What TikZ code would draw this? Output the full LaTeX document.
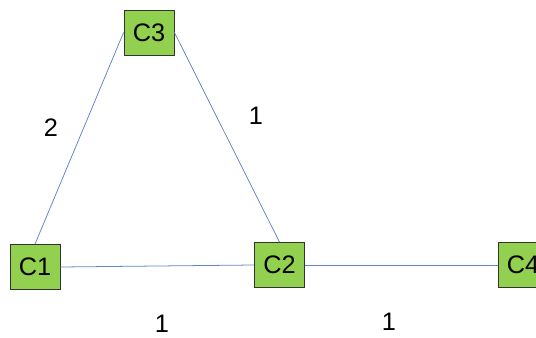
\documentclass[tikz,border=0pt]{standalone}
\usepackage{fontspec}
\setmainfont{Liberation Sans}
\usetikzlibrary{positioning}

\definecolor{cellgreen}{RGB}{146,208,80}
\definecolor{linkblue}{RGB}{98,134,200}

\begin{document}
\begin{tikzpicture}[
  font=\fontsize{18}{21}\selectfont,
  cell/.style={draw=black!80, fill=cellgreen, line width=0.6pt,
    minimum width=1.25cm, minimum height=1.125cm, inner sep=0pt},
  link/.style={draw=linkblue, line width=0.55pt},
  cost/.style={inner sep=0pt}
]
\path[use as bounding box] (0,0) rectangle (13.4,8.425);

\node[cell] (c3) at (3.725,7.6125) {C3};
\node[cell] (c1) at (0.875,1.75) {C1};
\node[cell] (c2) at (6.9875,1.8) {C2};
\node[cell] (c4) at (13.075,1.8) {C4};

\draw[link] (c3.west) -- (c1.north);
\draw[link] (c3.east) -- (c2.north);
\draw[link] (c1.east) -- (c2.west);
\draw[link] (c2.east) -- (c4.west);

\node[cost] (w31) at (1.275,5.225) {2};
\node[cost] (w32) at (6.4,5.525) {1};
\node[cost] (w12) at (4.05,0.325) {1};
\node[cost] (w24) at (9.725,0.375) {1};
\end{tikzpicture}
\end{document}
